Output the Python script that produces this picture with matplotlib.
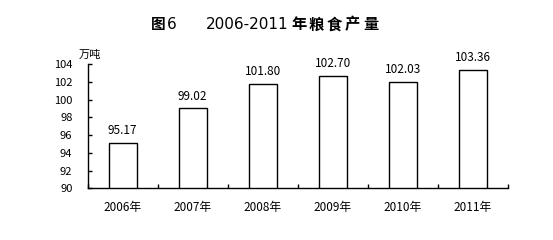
import matplotlib
matplotlib.use("Agg")
import matplotlib.pyplot as plt
import numpy as np

plt.rcParams['font.family'] = ['Noto Sans CJK SC', 'DejaVu Sans']

years = ["2006年", "2007年", "2008年", "2009年", "2010年", "2011年"]
values = [95.17, 99.02, 101.80, 102.70, 102.03, 103.36]
yticks = [90, 92, 94, 96, 98, 100, 102, 104]

W, H = 553, 240
fig = plt.figure(figsize=(W/100, H/100), dpi=100)
ax = fig.add_axes([87.7/W, (H-188.3)/H, (507.7-87.7)/W, (188.3-64.3)/H])

x = np.arange(len(years))
ax.bar(x, values, width=0.405, bottom=0, color='white', edgecolor='black', linewidth=1.0)
ax.set_ylim(90, 104)
ax.set_xlim(-0.5, len(years) - 0.5)
for xi, v in zip(x, values):
    ax.annotate(f"{v:.2f}", (xi, v), xytext=(0, 4), textcoords='offset points',
                ha='center', va='bottom', fontsize=8.5)

ax.set_yticks(yticks)
ax.set_yticklabels([str(t) for t in yticks], fontsize=8)
ax.tick_params(axis='y', direction='in', length=3, pad=11, width=1)

ax.set_xticks(np.arange(len(years) + 1) - 0.5)
ax.set_xticklabels([])
ax.tick_params(axis='x', which='major', direction='in', length=3, width=1)
ax.set_xticks(x, minor=True)
ax.set_xticklabels(years, minor=True, fontsize=8.5)
ax.tick_params(axis='x', which='minor', length=0, pad=9)

for s in ['top', 'right']:
    ax.spines[s].set_visible(False)
for s in ['left', 'bottom']:
    ax.spines[s].set_linewidth(1.0)

fig.text(79/W, 1 - 55/H, "万吨", fontsize=8, ha='left', va='center')

# Title
ty = 1 - 24.5/H
fig.text(151/W, ty, "图", fontsize=10.5, fontweight='bold', ha='left', va='center')
fig.text(167/W, ty, "6", fontsize=11, family='DejaVu Sans', ha='left', va='center')
fig.text(206/W, ty, "2006-2011", fontsize=11, family='DejaVu Sans', ha='left', va='center')
title_tail = "年粮食产量"
for i, ch in enumerate(title_tail):
    fig.text((291 + 18*i)/W, ty, ch, fontsize=11, fontweight='bold', ha='left', va='center')

fig.savefig("out.png", dpi=100, facecolor='white')
